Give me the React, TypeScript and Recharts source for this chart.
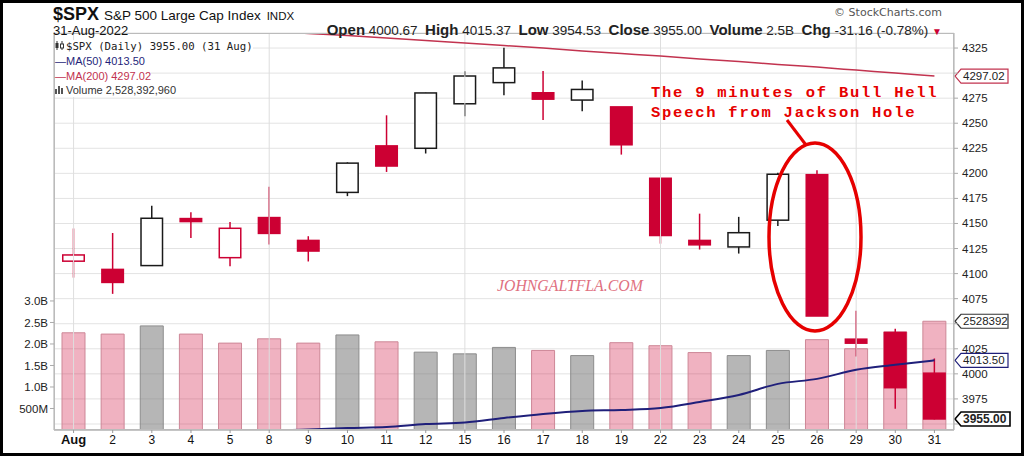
import React from "react";
import {
  ComposedChart,
  Bar,
  Line,
  XAxis,
  YAxis,
  CartesianGrid,
  Cell,
  ReferenceLine,
} from "recharts";

// trading days in August 2022
const days = ["Aug", "2", "3", "4", "5", "8", "9", "10", "11", "12", "15", "16", "17", "18", "19", "22", "23", "24", "25", "26", "29", "30", "31"];
const opens = [4112.4, 4104.2, 4108.0, 4154.9, 4115.9, 4155.9, 4133.1, 4181.0, 4227.4, 4225.0, 4269.4, 4290.5, 4280.4, 4273.1, 4266.3, 4195.1, 4133.1, 4126.6, 4153.3, 4198.7, 4034.6, 4041.3, 4000.67];
const highs = [4145.0, 4140.5, 4167.7, 4161.3, 4151.6, 4186.6, 4137.3, 4211.0, 4257.9, 4280.5, 4301.8, 4325.3, 4302.2, 4292.5, 4266.3, 4195.1, 4159.8, 4156.6, 4200.5, 4203.0, 4063.0, 4045.0, 4015.37];
const lows = [4096.0, 4079.8, 4108.0, 4135.4, 4107.3, 4129.0, 4112.1, 4177.3, 4201.4, 4219.8, 4256.9, 4277.8, 4253.1, 4262.0, 4218.7, 4129.9, 4124.0, 4120.0, 4147.6, 4057.7, 4017.4, 3965.2, 3954.53];
const closes = [4118.6, 4091.2, 4155.2, 4151.9, 4145.2, 4140.1, 4122.5, 4210.2, 4207.3, 4280.2, 4297.1, 4305.2, 4274.0, 4283.7, 4228.5, 4138.0, 4128.7, 4140.8, 4199.1, 4057.7, 4030.6, 3986.2, 3955.0];
// black (up vs previous close) or red (down)
const upDays = [false, false, true, false, false, false, false, true, false, true, true, true, false, true, false, false, false, true, true, false, false, false, false];
// volume in billions
const volumes = [2.26, 2.23, 2.42, 2.23, 2.02, 2.12, 2.02, 2.21, 2.05, 1.81, 1.77, 1.92, 1.85, 1.73, 2.03, 1.96, 1.8, 1.73, 1.85, 2.1, 1.89, 2.28, 2.528392960];
const ma50 = [null, null, null, null, 3941, 3943.5, 3944.5, 3946, 3947, 3950, 3951.5, 3956, 3960, 3963, 3964, 3966, 3972, 3979, 3990, 3995, 4004, 4009, 4013.5];
const ma200 = [null, null, null, null, null, 4342, 4339.5, 4337.5, 4335, 4332.5, 4330, 4327.5, 4325, 4322, 4319.5, 4317, 4314, 4311.5, 4308.5, 4306, 4303, 4300, 4297.02];

const priceTicks = [3950, 3975, 4000, 4025, 4050, 4075, 4100, 4125, 4150, 4175, 4200, 4225, 4250, 4275, 4300, 4325];
const hiddenPriceLabels = [3950, 4050, 4300];
const volTicks = [0.5e9, 1e9, 1.5e9, 2e9, 2.5e9, 3e9];
const weekStarts = ["Aug", "8", "15", "22", "29"];

const RED = "#cc0033";
const DARK = "#1a1a1a";
const NAVY = "#1f1f7a";
const MA200_RED = "#c2334f";

const data = days.map((d, i) => ({
  d,
  range: [lows[i], highs[i]],
  o: opens[i],
  h: highs[i],
  l: lows[i],
  c: closes[i],
  up: upDays[i],
  vol: volumes[i] * 1e9,
  ma50: ma50[i],
  ma200: ma200[i],
}));

const Candle = (props: any) => {
  const { x, y, width, height, payload } = props;
  if (!payload) return null;
  const { o, h, l, c, up } = payload;
  const y0 = Math.min(y, y + height);
  const y1 = Math.max(y, y + height);
  const py = (p: number) => y0 + ((h - p) / (h - l)) * (y1 - y0);
  const color = up ? DARK : RED;
  const cx = x + width / 2;
  const top = py(Math.max(o, c));
  const bot = py(Math.min(o, c));
  const hollow = c > o;
  return (
    <g>
      <line x1={cx} x2={cx} y1={y0} y2={top} stroke={color} strokeWidth={1.5} />
      <line x1={cx} x2={cx} y1={bot} y2={y1} stroke={color} strokeWidth={1.5} />
      <rect
        x={x + 0.75}
        y={top}
        width={width - 1.5}
        height={Math.max(bot - top, 2)}
        fill={hollow ? "#fff" : color}
        stroke={color}
        strokeWidth={1.5}
      />
    </g>
  );
};

const PriceTick = (props: any) => {
  const { x, y, payload } = props;
  if (hiddenPriceLabels.includes(payload.value)) return <g />;
  return (
    <text x={x} y={y + 4} fill="#222" fontSize={11.5} fontFamily="Liberation Sans, Arial" textAnchor="start">
      {payload.value}
    </text>
  );
};

const volLabel = (v: number) => (v < 1e9 ? `${v / 1e6}M` : `${(v / 1e9).toFixed(1)}B`);

const DayTick = (props: any) => {
  const { x, y, payload } = props;
  const first = payload.value === "Aug";
  return (
    <text x={x} y={y + 9} fill="#111" fontSize={first ? 13 : 12} fontWeight={first ? "bold" : "normal"} fontFamily="Liberation Sans, Arial" textAnchor="middle">
      {payload.value}
    </text>
  );
};

// value tag on the right axis
const tag = (text: string, color: string, bold = false) => (props: any) => {
  const vb = props.viewBox;
  const x = vb.x + vb.width;
  const y = vb.y;
  const w = bold ? 56 : 54;
  return (
    <g>
      <path
        d={`M${x + 1},${y} L${x + 7},${y - 7} L${x + w},${y - 7} L${x + w},${y + 7} L${x + 7},${y + 7} Z`}
        fill="#fff"
        stroke={color}
        strokeWidth={bold ? 1.6 : 1.2}
      />
      <text x={x + 9} y={y + 4} fontSize={bold ? 12 : 11.5} fontWeight={bold ? "bold" : "normal"} fill="#222" fontFamily="Liberation Sans, Arial">
        {text}
      </text>
    </g>
  );
};

const sans = "Liberation Sans, Arial, sans-serif";
const legendRow: React.CSSProperties = { width: "fit-content", height: 14.3, lineHeight: "14.3px", background: "#fff", whiteSpace: "nowrap" };

export default function App() {
  return (
    <div style={{ position: "absolute", left: 0, top: 0, width: 1024, height: 456, background: "#fff", overflow: "hidden" }}>
      <ComposedChart width={1024} height={456} data={data} margin={{ top: 33, right: 0, bottom: 0, left: 0 }}>
        <XAxis xAxisId="p" dataKey="d" height={26} tick={<DayTick />} tickSize={3} stroke="#999" interval={0} />
        <XAxis xAxisId="v" dataKey="d" hide />
        <YAxis
          yAxisId="p"
          orientation="right"
          width={70}
          domain={[3944, 4340]}
          allowDataOverflow
          ticks={priceTicks}
          tick={<PriceTick />}
          tickSize={4}
          tickMargin={4}
          stroke="#aaa"
          interval={0}
        />
        <YAxis
          yAxisId="v"
          orientation="left"
          width={54}
          domain={[0, 9.23e9]}
          allowDataOverflow
          ticks={volTicks}
          tickFormatter={volLabel}
          tick={{ fill: "#222", fontSize: 11.5, fontFamily: sans }}
          tickSize={4}
          tickMargin={2}
          stroke="#aaa"
          interval={0}
        />
        <CartesianGrid xAxisId="p" yAxisId="p" vertical={false} stroke="#e3e3e3" />
        {weekStarts.map((w) => (
          <ReferenceLine key={w} x={w} xAxisId="p" yAxisId="p" stroke="#dedede" />
        ))}
        <Bar xAxisId="v" yAxisId="v" dataKey="vol" barSize={23} isAnimationActive={false}>
          {data.map((e, i) => (
            <Cell
              key={i}
              fill={e.up ? "rgba(110,110,110,0.5)" : "rgba(204,0,51,0.3)"}
              stroke={e.up ? "#8c8c8c" : "#cd8797"}
              strokeWidth={1}
            />
          ))}
        </Bar>
        <Line xAxisId="p" yAxisId="p" dataKey="ma50" type="monotone" stroke={NAVY} strokeWidth={2} dot={false} isAnimationActive={false} />
        <Line xAxisId="p" yAxisId="p" dataKey="ma200" type="monotone" stroke={MA200_RED} strokeWidth={1.5} dot={false} isAnimationActive={false} />
        <Bar xAxisId="p" yAxisId="p" dataKey="range" barSize={23} shape={<Candle />} isAnimationActive={false} />
        <ReferenceLine yAxisId="p" xAxisId="p" y={4297.02} stroke="none" ifOverflow="visible" label={tag("4297.02", MA200_RED)} />
        <ReferenceLine yAxisId="v" xAxisId="p" y={2528392960} stroke="none" ifOverflow="visible" label={tag("2528392", "#333")} />
        <ReferenceLine yAxisId="p" xAxisId="p" y={4013.5} stroke="none" ifOverflow="visible" label={tag("4013.50", NAVY)} />
        <ReferenceLine yAxisId="p" xAxisId="p" y={3955} stroke="none" ifOverflow="visible" label={tag("3955.00", "#000", true)} />
      </ComposedChart>

      {/* plot frame */}
      <div style={{ position: "absolute", left: 54, top: 33, width: 900, height: 397, border: "1px solid #bbb", boxSizing: "border-box", pointerEvents: "none" }} />

      {/* header */}
      <div style={{ position: "absolute", left: 53, top: 4, fontFamily: sans, color: "#111", whiteSpace: "nowrap" }}>
        <span style={{ fontSize: 18, fontWeight: "bold" }}>$SPX</span>
        <span style={{ fontSize: 13.5, marginLeft: 5 }}>S&amp;P 500 Large Cap Index</span>
        <span style={{ fontSize: 11.5, marginLeft: 6 }}>INDX</span>
      </div>
      <div style={{ position: "absolute", left: 53, top: 23, fontFamily: sans, fontSize: 13, color: "#111" }}>31-Aug-2022</div>
      <div style={{ position: "absolute", right: 1024 - 942, top: 6, fontFamily: "DejaVu Sans, sans-serif", fontSize: 11, color: "#555" }}>© StockCharts.com</div>
      <div style={{ position: "absolute", right: 1024 - 942, top: 21, fontFamily: sans, fontSize: 13.5, color: "#222", whiteSpace: "nowrap" }}>
        <b style={{ fontSize: 15 }}>Open</b> 4000.67&nbsp; <b style={{ fontSize: 15 }}>High</b> 4015.37&nbsp; <b style={{ fontSize: 15 }}>Low</b> 3954.53&nbsp;{" "}
        <b style={{ fontSize: 15 }}>Close</b> 3955.00&nbsp; <b style={{ fontSize: 15 }}>Volume</b> 2.5B&nbsp; <b style={{ fontSize: 15 }}>Chg</b> -31.16 (-0.78%){" "}
        <span style={{ color: RED, fontSize: 10 }}>▼</span>
      </div>

      {/* legend */}
      <div style={{ position: "absolute", left: 55, top: 40 }}>
        <div style={{ ...legendRow, fontFamily: "DejaVu Sans Mono, monospace", fontSize: 10.7, color: "#222" }}>
          <svg width={9} height={9} style={{ marginRight: 2 }}>
            <line x1={2} x2={2} y1={0} y2={9} stroke="#333" />
            <rect x={0.5} y={2} width={3} height={5} fill="#333" />
            <line x1={7} x2={7} y1={0} y2={9} stroke="#333" />
            <rect x={5.5} y={3} width={3} height={4} fill="#fff" stroke="#333" />
          </svg>
          $SPX (Daily) 3955.00 (31 Aug)
        </div>
        <div style={{ ...legendRow, fontFamily: sans, fontSize: 11, color: NAVY }}>—MA(50) 4013.50</div>
        <div style={{ ...legendRow, fontFamily: sans, fontSize: 11, color: MA200_RED }}>—MA(200) 4297.02</div>
        <div style={{ ...legendRow, fontFamily: sans, fontSize: 11, color: "#333" }}>
          <svg width={9} height={9} style={{ marginRight: 2 }}>
            <rect x={0} y={4} width={2} height={5} fill="#555" />
            <rect x={3} y={1} width={2} height={8} fill="#555" />
            <rect x={6} y={3} width={2} height={6} fill="#555" />
          </svg>
          Volume 2,528,392,960
        </div>
      </div>

      {/* watermark */}
      <div style={{ position: "absolute", left: 497, top: 277, fontFamily: "Liberation Serif, serif", fontStyle: "italic", fontSize: 15.8, color: "#e0707f" }}>
        JOHNGALTFLA.COM
      </div>

      {/* hand-drawn annotation */}
      <div style={{ position: "absolute", left: 651, top: 83, fontFamily: "Liberation Mono, monospace", fontWeight: "bold", fontSize: 15.5, letterSpacing: 1.75, lineHeight: "20px", color: "#e60000", whiteSpace: "pre" }}>
        {"The 9 minutes of Bull Hell\nSpeech from Jackson Hole"}
      </div>
      <svg width={1024} height={456} style={{ position: "absolute", left: 0, top: 0, pointerEvents: "none" }}>
        <ellipse cx={815} cy={237} rx={46} ry={94} fill="none" stroke="#e60000" strokeWidth={3.5} />
        <line x1={787} y1={120} x2={806} y2={145} stroke="#e60000" strokeWidth={3} />
      </svg>

      {/* outer frame */}
      <div style={{ position: "absolute", left: 0, top: 0, width: 1024, height: 456, border: "3px solid #000", boxSizing: "border-box", pointerEvents: "none" }} />
    </div>
  );
}
